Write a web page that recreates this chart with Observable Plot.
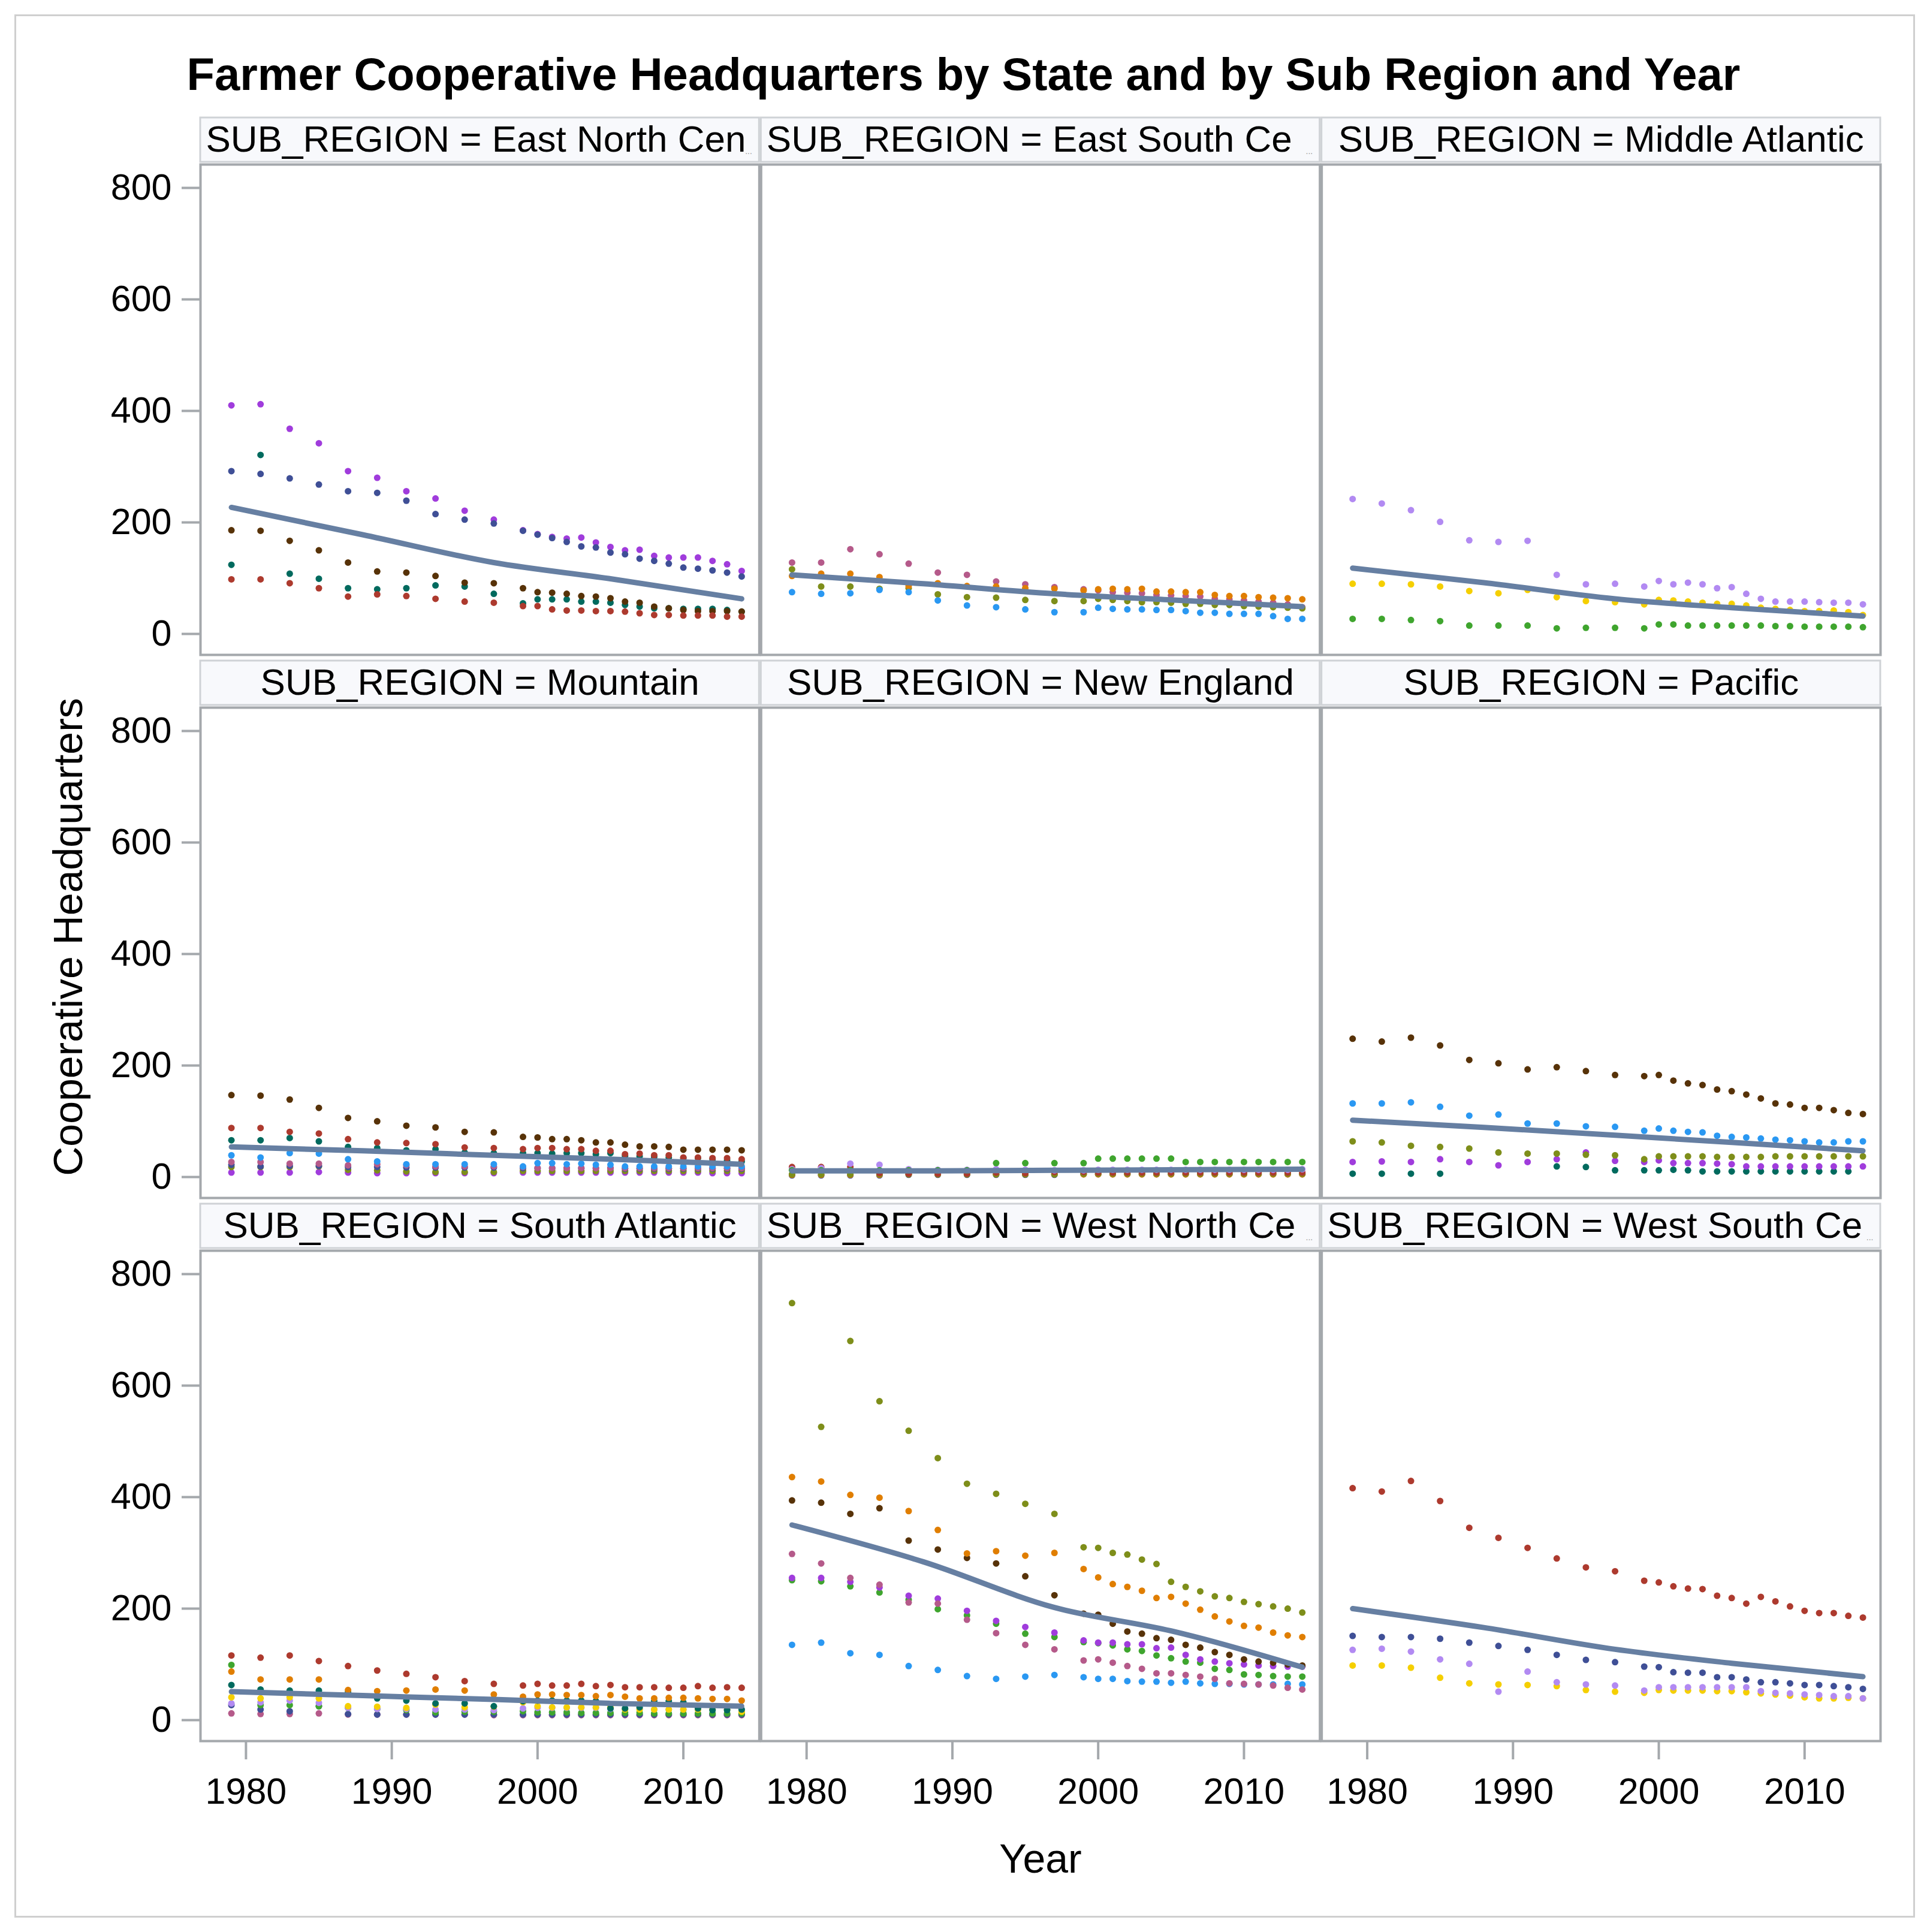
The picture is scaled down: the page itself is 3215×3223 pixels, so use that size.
<!DOCTYPE html>
<html>
<head>
<meta charset="utf-8">
<script src="https://cdn.jsdelivr.net/npm/d3@7"></script>
<script src="https://cdn.jsdelivr.net/npm/@observablehq/plot@0.6"></script>
<style>
html, body { margin: 0; padding: 0; background: #fff; }
#page { position: relative; width: 3215px; height: 3223px; font-family: "Liberation Sans", Arial, sans-serif; color: #000; }
#border { position: absolute; left: 24px; top: 24px; width: 3165px; height: 3169px; border: 3px solid #cfcfcf; }
#title { position: absolute; top: 84px; left: 0; width: 3215px; text-align: center; font-weight: bold; font-size: 76px; line-height: 80px; white-space: nowrap; }
#chart { position: absolute; left: 0; top: 160px; }
#ylabel { position: absolute; left: 113px; top: 1563px; transform: translate(-50%, -50%) rotate(-90deg); font-size: 68px; white-space: nowrap; }
#xlabel { position: absolute; left: 1736px; top: 3100px; transform: translate(-50%, -50%); font-size: 68px; white-space: nowrap; }
</style>
</head>
<body>
<div id="page">
  <div id="border"></div>
  <div id="title">Farmer Cooperative Headquarters by State and by Sub Region and Year</div>
  <div id="chart"></div>
  <div id="ylabel">Cooperative Headquarters</div>
  <div id="xlabel">Year</div>
</div>
<script>
// ---------------- data ----------------
const years = [1979,1981,1983,1985,1987,1989,1991,1993,1995,1997,1999,2000,2001,2002,2003,2004,2005,2006,2007,2008,2009,2010,2011,2012,2013,2014];

const regions = ["East North Central","East South Central","Middle Atlantic","Mountain","New England","Pacific","South Atlantic","West North Central","West South Central"];
const stripLabels = ["SUB_REGION = East North Cen","SUB_REGION = East South Ce","SUB_REGION = Middle Atlantic","SUB_REGION = Mountain","SUB_REGION = New England","SUB_REGION = Pacific","SUB_REGION = South Atlantic","SUB_REGION = West North Ce","SUB_REGION = West South Ce"];
const stripTruncated = [true,true,false,false,false,false,false,true,true];

const yTicks = [0,200,400,600,800];
const xTicks = [1980,1990,2000,2010];

// state groups (identified by their marker colour group)
const seriesKeys   = ["g-purple","g-navy","g-teal","g-brown","g-red","g-pink","g-olive","g-orange","g-blue","g-lavender","g-yellow","g-green"];
const seriesColors = ["#A03CDC","#3F4F96","#006A5E","#573208","#AD3A2E","#B55A8A","#7E8E1A","#E07E00","#2A98F2","#B28AF2","#F5CF00","#3FA52E"];

const eastNorthCentral = [
  ["g-purple", [410,412,368,342,292,280,256,243,221,205,186,179,174,171,173,164,156,150,151,140,137,137,137,131,125,113]],
  ["g-navy",   [292,287,279,268,256,253,239,215,205,198,185,178,172,165,157,155,146,143,135,131,126,119,117,114,110,103]],
  ["g-teal",   [124,321,108,99,82,80,82,87,85,72,55,62,62,62,58,58,56,52,49,46,46,45,45,45,43,40]],
  ["g-brown",  [186,185,167,150,128,112,110,104,92,91,82,75,74,72,68,67,64,58,56,49,46,43,41,41,41,40]],
  ["g-red",    [98,98,91,82,67,71,68,63,58,56,50,50,44,42,42,41,41,40,37,34,34,33,33,33,31,31]]
];
const eastSouthCentral = [
  ["g-pink",   [128,128,152,143,126,110,106,94,89,84,80,78,75,74,73,70,69,68,67,63,62,60,58,56,53,48]],
  ["g-olive",  [116,85,85,81,82,71,66,65,61,59,59,63,61,59,57,57,56,54,54,52,52,50,49,48,47,46]],
  ["g-orange", [104,108,108,102,86,91,86,85,82,81,78,80,81,80,81,76,76,75,75,70,68,68,66,65,64,62]],
  ["g-blue",   [75,72,73,79,75,60,51,48,44,39,39,47,45,44,44,43,43,41,38,38,36,36,36,32,27,27]]
];
const middleAtlantic = [
  ["g-lavender", [242,234,222,201,168,165,167,106,89,90,85,95,89,92,89,82,84,72,63,58,58,58,57,56,56,53]],
  ["g-yellow",   [90,90,89,85,77,73,79,66,59,57,53,61,60,58,56,54,54,51,47,45,43,41,41,42,39,34]],
  ["g-green",    [27,27,25,23,15,15,15,10,11,11,10,17,17,15,15,15,15,15,15,14,14,13,13,13,13,12]]
];
const mountain = [
  ["g-purple", [8,8,8,9,8,7,7,7,7,7,8,8,8,8,8,8,8,8,8,8,8,8,8,7,7,7]],
  ["g-olive",  [18,18,18,19,13,12,10,9,9,9,11,11,11,11,11,11,11,11,11,11,11,11,11,11,11,11]],
  ["g-navy",   [22,19,20,20,18,18,17,17,17,17,16,16,16,16,16,16,16,15,15,15,15,15,15,15,15,15]],
  ["g-pink",   [27,27,24,24,21,23,21,19,19,19,18,16,16,16,16,16,16,16,16,16,16,16,16,16,16,16]],
  ["g-blue",   [39,35,43,42,32,28,23,23,23,23,19,25,25,23,24,22,22,19,19,19,19,19,19,19,19,19]],
  ["g-teal",   [66,66,70,64,54,52,48,50,44,43,43,43,42,43,43,41,43,38,37,36,35,34,34,32,30,28]],
  ["g-red",    [88,88,81,78,68,62,61,59,53,52,50,52,52,50,50,47,47,41,42,39,39,35,35,34,34,32]],
  ["g-brown",  [147,146,139,124,106,100,92,89,81,80,72,71,68,68,66,62,62,58,55,55,54,49,49,49,49,48]]
];
const newEngland = [
  ["g-navy",     [3,3,3,3,4,4,4,4,4,4,5,5,5,5,5,5,5,5,5,5,5,5,5,5,5,5]],
  ["g-orange",   [4,4,4,4,5,5,5,5,5,5,5,5,5,5,5,5,5,5,5,5,5,5,5,5,5,5]],
  ["g-olive",    [5,5,5,5,5,5,5,5,5,5,6,6,6,6,6,6,6,6,6,6,6,6,6,6,6,6]],
  ["g-red",      [18,18,18,7,6,6,6,8,7,9,9,8,8,8,8,8,8,8,8,8,8,8,8,8,8,8]],
  ["g-lavender", [14,16,24,22,14,13,13,14,13,12,12,13,13,13,13,13,13,13,13,13,13,13,13,13,13,14]],
  ["g-green",    [12,12,12,12,12,12,12,25,25,25,25,33,33,33,33,33,33,27,27,27,27,27,27,27,27,27]]
];
const pacific = [
  ["g-teal",   [6,6,6,6,null,null,null,19,18,12,12,12,13,12,10,10,10,10,10,10,10,10,10,10,10,null]],
  ["g-purple", [27,28,27,32,27,21,27,32,44,29,27,30,25,25,25,24,23,19,19,19,19,19,19,19,19,19]],
  ["g-olive",  [64,62,56,54,51,44,42,42,40,39,32,37,37,37,37,36,36,36,36,37,37,37,37,37,37,37]],
  ["g-blue",   [132,132,134,126,110,112,96,96,91,90,83,87,83,81,80,74,72,71,69,67,66,64,62,62,64,64]],
  ["g-brown",  [248,243,250,236,210,204,193,197,190,183,181,183,173,168,165,157,154,148,141,132,130,124,124,120,115,113]]
];
const southAtlantic = [
  ["g-pink",     [12,11,11,12,10,10,10,10,10,9,9,9,9,9,9,9,9,9,9,9,9,9,9,9,9,9]],
  ["g-navy",     [27,19,16,25,11,10,10,10,10,10,10,10,10,10,10,10,10,10,10,10,10,10,10,10,10,10]],
  ["g-green",    [99,27,27,25,22,20,18,14,15,15,16,14,14,14,13,13,13,13,13,12,12,12,12,12,12,12]],
  ["g-lavender", [30,32,35,31,22,20,20,19,19,18,21,22,22,22,22,22,20,20,20,19,19,19,19,19,19,18]],
  ["g-yellow",   [41,39,41,39,25,24,22,28,23,24,32,25,23,23,23,23,23,19,19,19,19,19,19,19,19,15]],
  ["g-teal",     [63,55,53,53,50,39,35,30,30,25,34,35,35,35,35,34,21,21,23,34,34,32,21,18,18,19]],
  ["g-orange",   [87,73,73,73,54,52,53,55,53,46,42,46,46,45,45,43,45,42,39,39,40,40,39,38,38,35]],
  ["g-red",      [116,112,116,106,97,89,83,77,70,65,62,65,62,62,65,61,63,59,59,59,58,58,61,58,59,58]]
];
const westNorthCentral = [
  ["g-blue",   [135,139,120,117,97,90,79,74,78,81,77,74,74,70,69,69,67,69,66,65,65,64,64,64,65,64]],
  ["g-green",  [251,249,240,229,216,199,188,173,155,149,140,138,134,127,124,116,111,105,103,92,90,82,81,79,78,78]],
  ["g-purple", [255,255,248,238,223,218,196,178,167,157,143,139,139,136,136,129,130,117,109,105,102,100,98,97,96,96]],
  ["g-pink",   [298,281,255,243,211,209,180,156,135,127,107,109,103,97,92,84,84,81,78,74,66,65,64,62,58,55]],
  ["g-brown",  [394,390,370,380,322,306,291,281,258,224,191,189,173,159,155,147,144,135,130,122,117,109,105,103,100,98]],
  ["g-orange", [436,428,404,399,375,341,299,303,295,300,271,256,244,239,232,219,221,209,198,186,177,169,166,157,152,149]],
  ["g-olive",  [748,526,680,572,519,470,424,406,388,370,310,309,300,297,288,280,248,239,231,222,219,212,208,204,200,193]]
];
const westSouthCentral = [
  ["g-yellow",   [98,98,94,76,66,64,63,61,54,51,49,54,53,53,53,52,52,50,48,46,44,41,39,39,40,39]],
  ["g-lavender", [126,128,123,109,101,51,87,68,64,62,53,59,59,59,59,59,59,59,52,49,48,46,45,43,43,39]],
  ["g-navy",     [151,149,149,146,139,133,126,117,108,104,96,95,86,85,85,77,77,73,68,68,66,63,63,61,59,56]],
  ["g-red",      [416,410,429,393,345,327,309,290,274,267,250,247,240,236,235,223,219,209,221,213,204,196,192,192,187,184]]
];
const regionSeries = [eastNorthCentral, eastSouthCentral, middleAtlantic, mountain, newEngland, pacific, southAtlantic, westNorthCentral, westSouthCentral];

// fitted trend line, read at a few years
const trendYears = [1979, 1988, 1997, 2005, 2014];
const trendENC = [227, 178, 128, 99, 63];
const trendESC = [106, 90, 72, 61, 49];
const trendMA  = [118, 92, 63, 47, 32];
const trendMtn = [54, 47, 39, 32, 23];
const trendNE  = [11, 11, 12, 13, 14];
const trendPac = [102, 89, 75, 62, 47];
const trendSA  = [51, 44, 37, 30, 25];
const trendWNC = [350, 284, 202, 160, 95];
const trendWSC = [200, 166, 127, 102, 78];
const regionTrends = [trendENC, trendESC, trendMA, trendMtn, trendNE, trendPac, trendSA, trendWNC, trendWSC];

// ---------------- tables ----------------
const points = [];
regionSeries.forEach((list, r) => {
  list.forEach(([key, vals]) => {
    vals.forEach((v, i) => {
      if (v != null) points.push({region: regions[r], col: r % 3, row: Math.floor(r / 3), key, year: years[i], value: v});
    });
  });
});
const trendRows = [];
regionTrends.forEach((vals, r) => {
  vals.forEach((v, i) => trendRows.push({region: regions[r], col: r % 3, row: Math.floor(r / 3), year: trendYears[i], value: v}));
});
const strips = regions.map((name, r) => ({region: name, col: r % 3, row: Math.floor(r / 3), label: stripLabels[r], truncated: stripTruncated[r]}));

// ---------------- layout ----------------
const W = 3215, H = 3000;
const mL = 334, mR = 78, mT = 114, mB = 256;
const gapX = 3, gapY = 88;
const xDomain = [1976.88, 2015.21];
const yDomain = [-37.6, 841.9];
const bandW = (W - mL - mR - 2 * gapX) / 3;
const bandH = (H - mT - mB - 2 * gapY) / 3;
const pxPerUnit = bandH / (yDomain[1] - yDomain[0]);
const stripGap = 4, stripH = 74;
const stripY1 = yDomain[1] + stripGap / pxPerUnit;
const stripY2 = yDomain[1] + (stripGap + stripH) / pxPerUnit;

const chart = Plot.plot({
  width: W,
  height: H,
  marginLeft: mL, marginRight: mR, marginTop: mT, marginBottom: mB,
  style: {fontFamily: "'Liberation Sans', Arial, sans-serif", fontSize: "61px", background: "transparent", overflow: "visible", color: "#000"},
  fx: {domain: [0, 1, 2], axis: null, paddingInner: gapX / (bandW + gapX), paddingOuter: 0, round: false},
  fy: {domain: [0, 1, 2], axis: null, paddingInner: gapY / (bandH + gapY), paddingOuter: 0, round: false},
  x: {domain: xDomain},
  y: {domain: yDomain},
  color: {type: "ordinal", domain: seriesKeys, range: seriesColors},
  marks: [
    Plot.rect(strips, {fx: "col", fy: "row", y1: () => stripY1, y2: () => stripY2, fill: "#F8F9FC", stroke: "#cfd2d6", strokeWidth: 3}),
    Plot.text(strips.filter(d => !d.truncated), {fx: "col", fy: "row", text: "label", frameAnchor: "top", dy: -(stripGap + stripH / 2), lineAnchor: "middle", textAnchor: "middle", fontSize: 62, fill: "#000"}),
    Plot.text(strips.filter(d => d.truncated), {fx: "col", fy: "row", text: "label", frameAnchor: "top-left", dx: 9, dy: -(stripGap + stripH / 2), lineAnchor: "middle", textAnchor: "start", fontSize: 62, fill: "#000"}),
    Plot.text(strips.filter(d => d.truncated), {fx: "col", fy: "row", text: () => "...", frameAnchor: "top-right", dx: -12, dy: -(stripGap + 18), lineAnchor: "middle", textAnchor: "end", fontSize: 14, fill: "#999"}),
    Plot.dot(points, {fx: "col", fy: "row", x: "year", y: "value", fill: {value: "key", scale: "color"}, r: 5.5}),
    Plot.line(trendRows, {fx: "col", fy: "row", x: "year", y: "value", z: "region", stroke: "#667FA2", strokeWidth: 9, curve: "monotone-x"}),
    Plot.frame({stroke: "#a4a8ac", strokeWidth: 4}),
    Plot.axisY({ticks: yTicks, tickFormat: d => String(d), tickSize: 31, tickPadding: 17, fontSize: 61, stroke: "#a4a8ac", strokeWidth: 4, fill: "#000", label: null}),
    Plot.axisX({ticks: xTicks, tickFormat: d => String(d), tickSize: 31, tickPadding: 30, fontSize: 61, stroke: "#a4a8ac", strokeWidth: 4, fill: "#000", label: null})
  ]
});
document.getElementById("chart").appendChild(chart);
</script>
</body>
</html>
